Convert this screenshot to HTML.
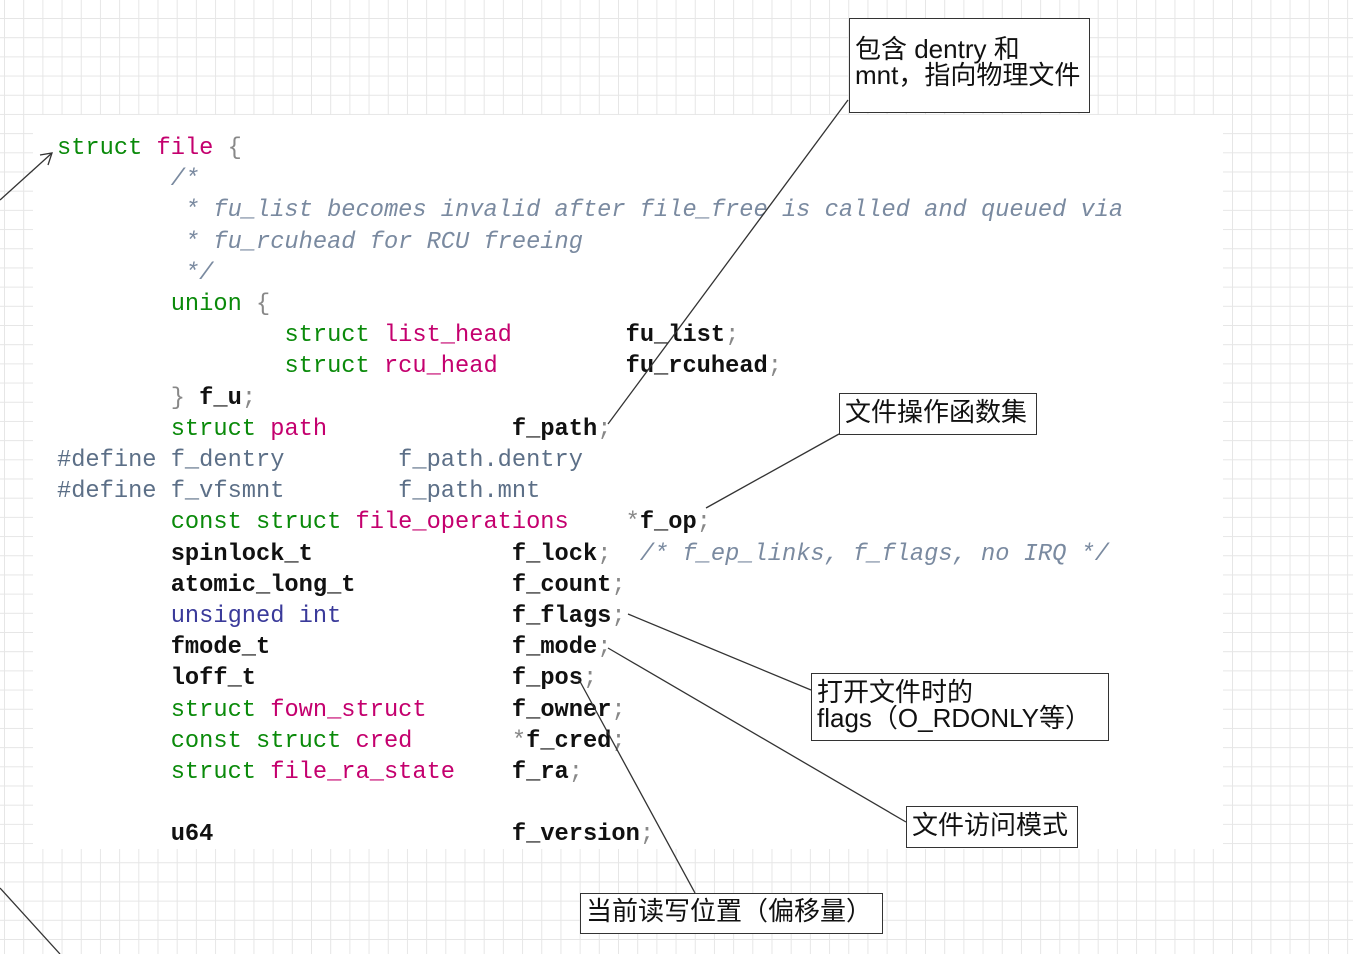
<!DOCTYPE html>
<html><head><meta charset="utf-8"><style>
html,body{margin:0;padding:0;}
body{width:1353px;height:954px;position:relative;overflow:hidden;background-color:#fff;
background-image:linear-gradient(to right,#e6e6e6 1px,transparent 1px),linear-gradient(to bottom,#e6e6e6 1px,transparent 1px);
background-size:19.2px 19.2px;background-position:4px -1.2px;}
#panel{position:absolute;left:33px;top:115px;width:1190px;height:734px;background:#fff;}
pre{position:absolute;left:57px;top:133px;margin:0;font-family:"Liberation Mono",monospace;font-size:23.7px;line-height:31.2px;color:#222;}
.k{color:#0a8a0a}.t{color:#c4006e}.c{color:#7a8aa0;font-style:italic}.d{color:#5c6f87}.b{font-weight:bold;color:#111}.u{color:#3a3a9a}.p{color:#888}
.box{position:absolute;border:1px solid #333;background:#fff;font-family:"Liberation Sans","Noto Sans CJK SC",sans-serif;font-size:26px;line-height:26px;color:#111;padding:2px 5px;box-sizing:border-box;white-space:nowrap;}
svg{position:absolute;left:0;top:0;}
</style></head><body>
<div id="panel"></div>
<pre><span class="k">struct</span> <span class="t">file</span> <span class="p">{</span>
        <span class="c">/*</span>
<span class="c">         * fu_list becomes invalid after file_free is called and queued via</span>
<span class="c">         * fu_rcuhead for RCU freeing</span>
<span class="c">         */</span>
        <span class="k">union</span> <span class="p">{</span>
                <span class="k">struct</span> <span class="t">list_head</span>        <span class="b">fu_list</span><span class="p">;</span>
                <span class="k">struct</span> <span class="t">rcu_head</span>         <span class="b">fu_rcuhead</span><span class="p">;</span>
        <span class="p">}</span> <span class="b">f_u</span><span class="p">;</span>
        <span class="k">struct</span> <span class="t">path</span>             <span class="b">f_path</span><span class="p">;</span>
<span class="d">#define f_dentry        f_path.dentry</span>
<span class="d">#define f_vfsmnt        f_path.mnt</span>
        <span class="k">const struct</span> <span class="t">file_operations</span>    <span class="p">*</span><span class="b">f_op</span><span class="p">;</span>
        <span class="b">spinlock_t</span>              <span class="b">f_lock</span><span class="p">;</span>  <span class="c">/* f_ep_links, f_flags, no IRQ */</span>
        <span class="b">atomic_long_t</span>           <span class="b">f_count</span><span class="p">;</span>
        <span class="u">unsigned int</span>            <span class="b">f_flags</span><span class="p">;</span>
        <span class="b">fmode_t</span>                 <span class="b">f_mode</span><span class="p">;</span>
        <span class="b">loff_t</span>                  <span class="b">f_pos</span><span class="p">;</span>
        <span class="k">struct</span> <span class="t">fown_struct</span>      <span class="b">f_owner</span><span class="p">;</span>
        <span class="k">const struct</span> <span class="t">cred</span>       <span class="p">*</span><span class="b">f_cred</span><span class="p">;</span>
        <span class="k">struct</span> <span class="t">file_ra_state</span>    <span class="b">f_ra</span><span class="p">;</span>

        <span class="b">u64</span>                     <span class="b">f_version</span><span class="p">;</span></pre>
<svg width="1353" height="954" viewBox="0 0 1353 954">
<g stroke="#333" stroke-width="1.3" fill="none">
<line x1="848" y1="100" x2="608" y2="424"/>
<line x1="839" y1="434" x2="706" y2="508"/>
<line x1="811" y1="690" x2="628" y2="614"/>
<line x1="906" y1="822" x2="608" y2="648"/>
<line x1="695" y1="893" x2="577" y2="676"/>
<line x1="0" y1="200" x2="52" y2="153"/>
<polyline points="40,155 52,153 48,165"/>
<line x1="0" y1="888" x2="60" y2="954"/>
</g></svg>
<div class="box" style="left:849px;top:18px;width:241px;height:95px;padding-top:17px;">包含 dentry 和<br>mnt，指向物理文件</div>
<div class="box" style="left:839px;top:393px;width:198px;height:42px;padding-top:5px;">文件操作函数集</div>
<div class="box" style="left:811px;top:673px;width:298px;height:68px;padding-top:5px;">打开文件时的<br>flags（O_RDONLY等）</div>
<div class="box" style="left:906px;top:806px;width:172px;height:42px;padding-top:5px;">文件访问模式</div>
<div class="box" style="left:580px;top:893px;width:303px;height:41px;padding-top:4px;">当前读写位置（偏移量）</div>
</body></html>
